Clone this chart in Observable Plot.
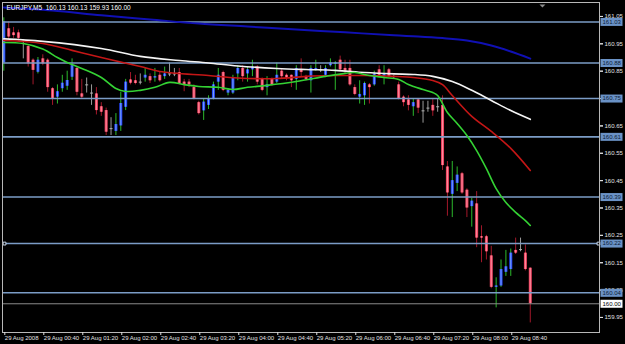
<!DOCTYPE html>
<html><head><meta charset="utf-8">
<script src="https://cdn.jsdelivr.net/npm/d3@7"></script>
<script src="https://cdn.jsdelivr.net/npm/@observablehq/plot@0.6"></script>
<style>html,body{margin:0;padding:0;background:#000;overflow:hidden}</style>
</head><body><div id="chart"></div>
<script>
const symbol = "EURJPY", timeframe = "M5";
const opens = [160.88,161.005,160.99,160.99,160.96,160.94,160.89,160.846,160.895,160.89,160.786,160.755,160.786,160.795,160.828,160.86,160.767,160.80,160.77,160.767,160.72,160.706,160.64,160.63,160.65,160.718,160.818,160.815,160.81,160.825,160.83,160.825,160.835,160.83,160.84,160.84,160.845,160.81,160.81,160.79,160.735,160.705,160.725,160.75,160.81,160.845,160.77,160.77,160.84,160.86,160.84,160.855,160.865,160.82,160.79,160.82,160.81,160.85,160.835,160.835,160.82,160.855,160.83,160.815,160.855,160.855,160.835,160.87,160.875,160.89,160.86,160.86,160.79,160.755,160.76,160.80,160.80,160.855,160.83,160.855,160.83,160.80,160.755,160.745,160.72,160.745,160.705,160.715,160.725,160.72,160.725,160.50,160.40,160.44,160.475,160.415,160.355,160.365,160.245,160.245,160.175,160.06,160.065,160.115,160.125,160.195,160.198,160.185,160.13];
const highs = [161.045,161.03,161.01,161.00,160.965,160.945,160.895,160.90,160.91,160.895,160.79,160.80,160.835,160.85,160.895,160.865,160.82,160.825,160.80,160.79,160.735,160.715,160.68,160.695,160.773,160.82,160.845,160.835,160.84,160.86,160.84,160.86,160.845,160.865,160.88,160.86,160.86,160.82,160.82,160.80,160.74,160.75,160.76,160.81,160.86,160.85,160.785,160.835,160.87,160.87,160.865,160.89,160.87,160.825,160.83,160.825,160.88,160.86,160.84,160.835,160.87,160.895,160.835,160.87,160.89,160.87,160.87,160.895,160.885,160.905,160.89,160.89,160.80,160.815,160.81,160.805,160.85,160.87,160.87,160.86,160.835,160.81,160.76,160.76,160.75,160.75,160.74,160.74,160.75,160.75,160.76,160.52,160.52,160.50,160.48,160.42,160.385,160.41,160.285,160.25,160.21,160.095,160.16,160.195,160.20,160.24,160.24,160.215,160.13];
const lows = [160.85,160.965,160.97,160.96,160.895,160.865,160.80,160.84,160.87,160.773,160.725,160.73,160.773,160.78,160.816,160.76,160.75,160.77,160.725,160.69,160.685,160.615,160.615,160.615,160.63,160.706,160.80,160.80,160.80,160.81,160.805,160.81,160.81,160.82,160.83,160.83,160.80,160.775,160.79,160.745,160.69,160.67,160.71,160.745,160.78,160.775,160.76,160.765,160.815,160.81,160.81,160.83,160.80,160.775,160.76,160.795,160.805,160.82,160.815,160.79,160.78,160.83,160.815,160.77,160.85,160.845,160.83,160.865,160.78,160.85,160.84,160.795,160.76,160.73,160.725,160.73,160.795,160.83,160.80,160.825,160.82,160.745,160.72,160.705,160.685,160.695,160.66,160.70,160.685,160.70,160.487,160.32,160.315,160.41,160.40,160.315,160.28,160.205,160.15,160.16,160.055,159.985,160.06,160.10,160.10,160.18,160.19,160.12,159.93];
const closes = [161.03,160.975,160.98,160.97,160.96,160.877,160.853,160.89,160.877,160.79,160.75,160.775,160.806,160.816,160.87,160.773,160.755,160.80,160.77,160.706,160.70,160.627,160.64,160.655,160.732,160.81,160.806,160.805,160.81,160.835,160.815,160.83,160.815,160.84,160.84,160.84,160.805,160.80,160.80,160.75,160.695,160.737,160.75,160.80,160.835,160.78,160.78,160.825,160.86,160.83,160.855,160.865,160.81,160.78,160.80,160.80,160.835,160.83,160.825,160.815,160.86,160.845,160.82,160.86,160.86,160.855,160.86,160.88,160.88,160.855,160.85,160.80,160.765,160.765,160.805,160.79,160.84,160.835,160.84,160.83,160.83,160.75,160.735,160.725,160.735,160.715,160.705,160.715,160.705,160.72,160.505,160.405,160.45,160.47,160.405,160.35,160.375,160.24,160.24,160.19,160.06,160.065,160.125,160.135,160.185,160.185,160.198,160.125,160.00];

// moving averages (bar index, price)
const maBlueBars = [0,10,20,30,40,50,60,70,80,85,90,95,100,104,108];
const maBlueVals = [161.083,161.072,161.054,161.039,161.024,161.013,161.002,160.992,160.981,160.977,160.971,160.962,160.944,160.922,160.896];
const maWhiteBars = [0,8,20,28,36,42,48,56,62,68,74,80,84,88,92,96,100,104,108];
const maWhiteVals = [160.968,160.959,160.933,160.904,160.889,160.880,160.869,160.860,160.856,160.853,160.845,160.840,160.838,160.831,160.812,160.780,160.743,160.706,160.674];
const maRedBars = [0,8,14,20,28,32,42,48,56,62,68,74,80,84,88,90,92,96,100,104,108];
const maRedVals = [160.962,160.951,160.926,160.900,160.867,160.849,160.834,160.825,160.823,160.831,160.834,160.834,160.831,160.827,160.816,160.801,160.761,160.685,160.630,160.568,160.487];
const maGreenBars = [0,4,8,11,13,16,20,23,25,28,31,34,37,40,44,47,50,54,60,66,70,72,75,78,81,83,86,88,89,91,93,95,97,99,101,103,105,107,108];
const maGreenVals = [160.955,160.951,160.931,160.900,160.882,160.860,160.827,160.787,160.776,160.780,160.791,160.809,160.801,160.794,160.791,160.783,160.791,160.798,160.812,160.831,160.842,160.845,160.834,160.827,160.820,160.801,160.783,160.772,160.761,160.699,160.659,160.615,160.560,160.494,160.421,160.370,160.334,160.304,160.286];

const levels = [161.03, 160.88, 160.75, 160.61, 160.39, 160.22, 160.04];
const selectedLevel = 160.22;
const currentPrice = 160.00;
const priceTicks = [161.05,160.95,160.85,160.75,160.65,160.55,160.45,160.35,160.25,160.15,160.05,159.95];
const timeTickBars = [0,8,16,24,32,40,48,56,64,72,80,88,96,104];
const firstTickLabel = "29 Aug 2008";
const shiftMarkerBar = 110.5;

const start = Date.UTC(2008, 7, 29, 0, 0);
const barMs = 5 * 60 * 1000;
const t = i => new Date(start + i * barMs);

const bars = opens.map((o, i) => ({
  t: t(i), o, h: highs[i], l: lows[i], c: closes[i],
  kind: closes[i] > o ? "bull" : closes[i] < o ? "bear" : "doji"
}));
const ma = (b, v) => b.map((bi, k) => ({t: t(bi), v: v[k]}));

const wickColor = {bull: "#2cb82c", bear: "#a3182a", doji: "#9a9a9a"};
const bodyOuter = {bull: "#2446ff", bear: "#ee4462"};
const bodyInner = {bull: "#7ea8f2", bear: "#ff8e9e"};

const FONT = "'Liberation Sans',Arial,sans-serif";
const FS = 6;
const fmtTime = d3.utcFormat("%d %b %H:%M");
const boxSymbol = {draw(ctx) { ctx.rect(-11, -4, 22, 8); }};
const dojiSymbol = {draw(ctx) { ctx.moveTo(-1.5, 0); ctx.lineTo(1.5, 0); }};
const triSymbol = {draw(ctx) { ctx.moveTo(-3, 0); ctx.lineTo(3, 0); ctx.lineTo(0, 3); ctx.closePath(); }};

const body = bars.filter(d => d.kind !== "doji");
const dojis = bars.filter(d => d.kind === "doji");
const last = bars[bars.length - 1];
const header = `${symbol},${timeframe}  ${last.o.toFixed(2)} ${last.h.toFixed(2)} ${last.l.toFixed(2)} ${last.c.toFixed(2)}`;
// a tick label sitting exactly under a price box is hidden by it
const shownTickLabels = priceTicks.filter(p => !levels.some(l => Math.abs(l - p) < 0.005));

const chart = Plot.plot({
  width: 625, height: 344,
  marginLeft: 2, marginRight: 26, marginTop: 2, marginBottom: 12,
  style: {background: "#000", color: "#e6e6e6", fontFamily: FONT, fontSize: FS + "px", overflow: "visible"},
  x: {type: "utc", domain: [new Date(start - 80e3), new Date(start + 122.2 * barMs)], axis: null},
  y: {domain: [159.895, 161.101], axis: null},
  marks: [
    // candles
    Plot.ruleX(bars, {x: "t", y1: "l", y2: "h", stroke: d => wickColor[d.kind], strokeWidth: 1}),
    Plot.ruleX(body, {x: "t", y1: "o", y2: "c", stroke: d => bodyOuter[d.kind], strokeWidth: 3}),
    Plot.ruleX(body, {x: "t", y1: "o", y2: "c", stroke: d => bodyInner[d.kind], strokeWidth: 1}),
    Plot.dot(dojis, {x: "t", y: "o", symbol: dojiSymbol, stroke: "#b0b0b0", strokeWidth: 1}),
    // horizontal objects
    Plot.ruleY(levels, {stroke: "#7b9cc6", strokeWidth: 1.6}),
    Plot.ruleY([currentPrice], {stroke: "#8a8a8a", strokeWidth: 1}),
    // moving averages
    Plot.line(ma(maBlueBars, maBlueVals), {x: "t", y: "v", stroke: "#1010b4", strokeWidth: 2, curve: "catmull-rom"}),
    Plot.line(ma(maWhiteBars, maWhiteVals), {x: "t", y: "v", stroke: "#f4f4f4", strokeWidth: 1.6, curve: "catmull-rom"}),
    Plot.line(ma(maRedBars, maRedVals), {x: "t", y: "v", stroke: "#c41616", strokeWidth: 1.6, curve: "catmull-rom"}),
    Plot.line(ma(maGreenBars, maGreenVals), {x: "t", y: "v", stroke: "#34d234", strokeWidth: 1.6, curve: "catmull-rom"}),
    // selection handles on the selected line
    Plot.dot([selectedLevel], {y: d => d, frameAnchor: "left", dx: 2, symbol: "square", r: 1.6, stroke: "#c8d6ea", fill: "#000", strokeWidth: 1}),
    Plot.dot([selectedLevel], {y: d => d, frameAnchor: "right", dx: -1, symbol: "square", r: 1.6, stroke: "#c8d6ea", fill: "#000", strokeWidth: 1}),
    Plot.frame({stroke: "#b8b8b8", strokeWidth: 1}),
    Plot.dot([shiftMarkerBar], {x: d => t(d), frameAnchor: "top", dy: 2, symbol: triSymbol, fill: "#8c8c8c"}),
    // header
    Plot.text([header], {frameAnchor: "top-left", dx: 4, dy: 3, textAnchor: "start", lineAnchor: "top", fill: "#ffffff", fontSize: FS + 0.5}),
    // price axis
    Plot.axisY(priceTicks, {anchor: "right", tickSize: 3, text: null, stroke: "#e0e0e0", label: null}),
    Plot.axisY(shownTickLabels, {anchor: "right", tickFormat: d => d.toFixed(2), tickSize: 3, tickPadding: 2, stroke: "#e0e0e0", fill: "#e0e0e0", label: null, fontSize: FS}),
    Plot.dot(levels, {y: d => d, frameAnchor: "right", dx: 12, symbol: boxSymbol, fill: "#6a92c6"}),
    Plot.text(levels, {y: d => d, text: d => d.toFixed(2), frameAnchor: "right", dx: 3, textAnchor: "start", fill: "#0c1c36", fontSize: FS}),
    Plot.dot([currentPrice], {y: d => d, frameAnchor: "right", dx: 12, symbol: boxSymbol, fill: "#ffffff"}),
    Plot.text([currentPrice], {y: d => d, text: d => d.toFixed(2), frameAnchor: "right", dx: 3, textAnchor: "start", fill: "#000000", fontSize: FS}),
    // time axis
    Plot.axisX(timeTickBars.map(t), {tickFormat: d => +d === start ? firstTickLabel : fmtTime(d), tickSize: 3, tickPadding: 0, textAnchor: "start", dx: 1, stroke: "#e0e0e0", fill: "#e0e0e0", label: null, fontSize: FS})
  ]
});
document.getElementById("chart").append(chart);
</script>
</body></html>
